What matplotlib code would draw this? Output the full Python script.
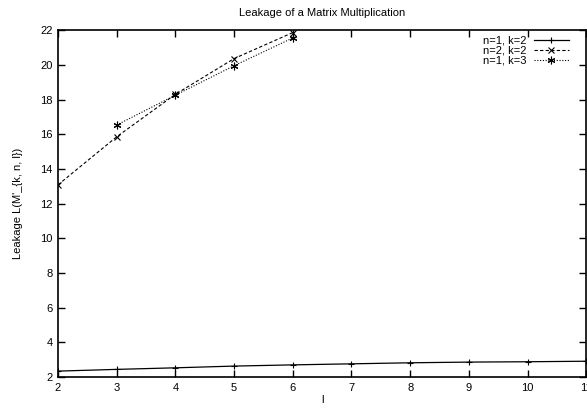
import matplotlib
matplotlib.use('Agg')
import matplotlib.pyplot as plt

plt.rcParams['font.family'] = ['Liberation Sans', 'DejaVu Sans']
plt.rcParams['font.size'] = 8

l_12 = [2, 3, 4, 5, 6, 7, 8, 9, 10, 11]
leak_12 = [2.34, 2.44, 2.53, 2.63, 2.70, 2.76, 2.82, 2.86, 2.88, 2.91]

l_22 = [2, 3, 4, 5, 6]
leak_22 = [13.08, 15.85, 18.3, 20.36, 21.86]

l_13 = [3, 4, 5, 6]
leak_13 = [16.53, 18.25, 19.95, 21.55]

fig = plt.figure(figsize=(5.87, 4.11), dpi=100)
ax = fig.add_axes([0.0988, 0.0827, 0.9, 0.844])

ax.plot(l_12, leak_12, color='black', linestyle='-', linewidth=0.9,
        marker='+', markersize=5, markeredgewidth=0.8, label='n=1, k=2')
ax.plot(l_22, leak_22, color='black', linestyle=(0, (3, 2)), linewidth=0.8,
        marker='x', markersize=5, markeredgewidth=0.8, label='n=2, k=2')
ax.plot(l_13, leak_13, color='black', linestyle=(0, (1, 1.5)), linewidth=0.8,
        marker=(6, 2, 0), markersize=5.5, markeredgewidth=0.8, label='n=1, k=3')

ax.set_xlim(2, 11)
ax.set_ylim(2, 22)
ax.set_xticks(range(2, 12))
ax.set_yticks(range(2, 23, 2))
ax.tick_params(direction='in', top=True, right=True, length=5, width=1.0, pad=4)
for s in ax.spines.values():
    s.set_linewidth(1.2)

ax.set_title('Leakage of a Matrix Multiplication', fontsize=8, pad=10)
ax.set_xlabel('l', labelpad=2)
ax.set_ylabel("Leakage L(M'_{k, n, l})", labelpad=12)

leg = ax.legend(loc='upper right', bbox_to_anchor=(0.978, 1.0), frameon=False,
                markerfirst=False, handlelength=3.2, handletextpad=0.6,
                labelspacing=0.0, borderaxespad=0.1, fontsize=8)

fig.savefig('out.png', dpi=100)
